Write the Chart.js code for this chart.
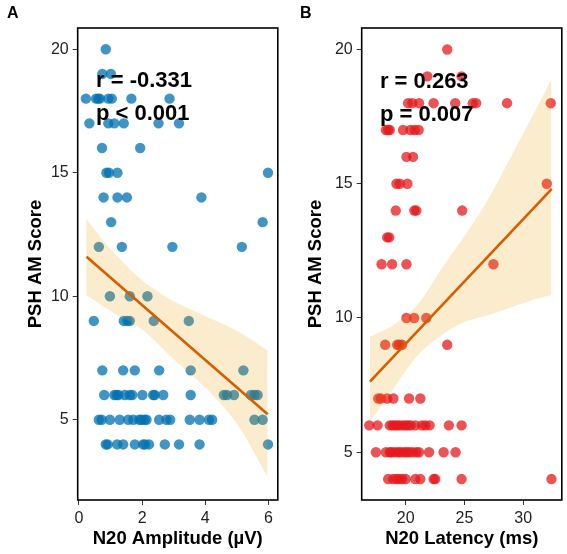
<!DOCTYPE html>
<html>
<head>
<meta charset="utf-8">
<script src="https://cdn.jsdelivr.net/npm/chart.js@4.4.1/dist/chart.umd.min.js"></script>
<style>
  html, body { margin: 0; padding: 0; background: #fff; }
  #wrap { position: relative; width: 567px; height: 554px; }
  canvas { position: absolute; top: 0; }
  #chartA { left: 0; }
  #chartB { left: 283px; }
</style>
</head>
<body>
<div id="wrap">
  <canvas id="chartA" width="283" height="554"></canvas>
  <canvas id="chartB" width="284" height="554"></canvas>
</div>
<script>
// PSH AM score rows (same levels in both panels)
const scoreLevels = [20, 19, 18, 17, 16, 15, 14, 13, 12, 10, 9, 7, 6, 5, 4];

// Panel A: N20 amplitude (µV) of the patients in each score row
const amplitudeByScore = [
    [0.85],
    [0.74, 1.01],
    [0.22, 0.54, 0.61, 0.66, 0.93, 1.04, 1.66, 2.87],
    [0.33, 0.93, 1.12, 1.42, 2.52, 3.17],
    [0.73, 1.94],
    [0.87, 0.95, 1.22, 5.99],
    [0.78, 1.22, 1.52, 3.88],
    [1.02, 5.82],
    [0.63, 1.36, 2.96, 5.16],
    [0.98, 1.61, 2.17],
    [0.47, 1.42, 1.53, 1.61, 2.37, 3.48],
    [0.74, 1.40, 1.77, 2.54, 3.54, 5.21],
    [0.80, 1.12, 1.19, 1.25, 1.45, 1.61, 1.69, 2.01, 2.35, 2.40, 2.67, 3.54, 4.59, 4.69, 4.91, 5.45, 5.56, 5.66],
    [0.63, 0.72, 0.98, 1.29, 1.56, 1.72, 1.91, 1.98, 2.08, 2.14, 2.54, 2.77, 2.89, 3.51, 3.82, 4.12, 4.22, 5.56, 5.82],
    [0.85, 0.91, 1.21, 1.40, 1.77, 2.03, 2.10, 2.22, 2.72, 3.17, 3.82, 5.99]
];

// Panel B: N20 latency (ms) of the patients in each score row
const latencyByScore = [
    [23.53],
    [21.84, 24.75],
    [20.2, 20.56, 21.13, 22.37, 24.21, 25.71, 25.99, 28.62, 32.34],
    [18.31, 18.5, 18.64, 19.77, 20.4, 20.76, 21.1],
    [20.06, 20.62],
    [19.21, 19.49, 20.14, 32.0],
    [19.15, 20.73, 20.9, 24.8],
    [18.42, 18.59],
    [17.94, 18.84, 20.06, 27.46],
    [20.06, 20.71, 21.75],
    [18.25, 19.27, 19.44, 19.69, 23.53],
    [17.66, 17.88, 18.42, 18.95, 20.28, 21.24],
    [16.89, 17.6, 18.64, 18.87, 19.07, 19.27, 19.49, 19.77, 20.0, 20.2, 20.42, 20.82, 21.38, 21.67, 22.03, 23.67, 24.75],
    [17.46, 18.31, 18.64, 18.79, 19.07, 19.35, 19.55, 19.83, 20.06, 20.28, 20.56, 20.9, 21.13, 21.98, 23.22, 24.24],
    [18.5, 18.93, 19.21, 19.44, 19.69, 20.0, 20.82, 21.24, 22.37, 22.51, 24.75, 32.4]
];

// fitted lines and confidence bands
const ampFitX = [0.24, 5.98];
const ampFitY = [11.6, 5.22];
const ampBandX = [0.23, 1.0, 2.0, 3.0, 4.0, 5.0, 5.98];
const ampBandUpper = [13.15, 11.9, 10.65, 9.8, 9.2, 8.6, 7.8];
const ampBandLower = [10.05, 9.4, 8.65, 7.45, 6.3, 4.85, 2.68];

const latFitX = [16.95, 32.43];
const latFitY = [7.63, 14.81];
const latBandX = [16.95, 19, 21, 23, 25, 27, 29, 31, 32.4];
const latBandUpper = [9.3, 9.75, 10.5, 11.8, 13.05, 14.4, 16.05, 17.7, 18.9];
const latBandLower = [6.13, 7.4, 8.6, 9.35, 9.85, 10.1, 10.4, 10.7, 10.86];

// tick labels
const yTicks = [5, 10, 15, 20];
const ampTicks = [0, 2, 4, 6];
const latTicks = [20, 25, 30];

const FONT = '"Liberation Sans", Arial, Helvetica, sans-serif';

function toPoints(xs, ys) {
    return xs.map((v, i) => ({ x: v, y: ys[i] }));
}

function rowsToPoints(rows) {
    let pts = [];
    rows.forEach((row, i) => {
        row.forEach(v => pts.push({ x: v, y: scoreLevels[i] }));
    });
    return pts;
}

// box, stats text and panel letter
const panelDecor = {
    id: 'panelDecor',
    afterDatasetsDraw(chart, args, o) {
        const { ctx, chartArea: a, scales: { x, y } } = chart;
        ctx.save();
        ctx.fillStyle = '#000';
        ctx.textAlign = 'left';
        ctx.textBaseline = 'alphabetic';
        ctx.font = 'bold 22px ' + FONT;
        let tx = x.getPixelForValue(o.statX);
        ctx.fillText(o.stats[0], tx, y.getPixelForValue(o.statY[0]));
        ctx.fillText(o.stats[1], tx, y.getPixelForValue(o.statY[1]));

        ctx.strokeStyle = '#000';
        ctx.lineWidth = 1.6;
        ctx.strokeRect(a.left, a.top, a.right - a.left, a.bottom - a.top);

        ctx.font = 'bold 16px ' + FONT;
        ctx.fillText(o.letter, o.letterX, 18);
        ctx.restore();
    }
};

function makePanel(id, cfg) {
    let ctx = document.getElementById(id).getContext('2d');
    return new Chart(ctx, {
        type: 'scatter',
        data: {
            datasets: [
                {
                    data: rowsToPoints(cfg.rows),
                    backgroundColor: cfg.pointColor,
                    borderWidth: 0,
                    pointRadius: 5.2,
                    order: 3
                },
                {
                    type: 'line',
                    data: toPoints(cfg.bandX, cfg.bandUpper),
                    borderWidth: 0,
                    pointRadius: 0,
                    fill: '+1',
                    backgroundColor: 'rgba(230,159,0,0.2)',
                    tension: 0.3,
                    order: 2
                },
                {
                    type: 'line',
                    data: toPoints(cfg.bandX, cfg.bandLower),
                    borderWidth: 0,
                    pointRadius: 0,
                    fill: false,
                    tension: 0.3,
                    order: 2
                },
                {
                    type: 'line',
                    data: toPoints(cfg.fitX, cfg.fitY),
                    borderColor: '#D55E00',
                    borderWidth: 2.6,
                    pointRadius: 0,
                    fill: false,
                    order: 1
                }
            ]
        },
        options: {
            responsive: false,
            devicePixelRatio: 1,
            animation: false,
            events: [],
            layout: { padding: { top: 28, right: cfg.padRight, bottom: 0, left: 0 } },
            plugins: {
                legend: { display: false },
                tooltip: { enabled: false },
                panelDecor: cfg.decor
            },
            scales: {
                x: {
                    type: 'linear',
                    min: cfg.xMin,
                    max: cfg.xMax,
                    afterBuildTicks: s => { s.ticks = cfg.xTicks.map(v => ({ value: v })); },
                    afterFit: s => { s.height = 54; },
                    grid: { drawOnChartArea: false, drawTicks: true, tickLength: 5, tickColor: '#333', tickWidth: 1 },
                    border: { display: false },
                    ticks: { color: '#222', font: { family: FONT, size: 16 }, padding: 4, maxRotation: 0 },
                    title: {
                        display: true,
                        text: cfg.xTitle,
                        color: '#000',
                        font: { family: FONT, size: 18.5, weight: 'bold' },
                        padding: { top: 0, bottom: 4 }
                    }
                },
                y: {
                    type: 'linear',
                    min: cfg.yMin,
                    max: cfg.yMax,
                    afterBuildTicks: s => { s.ticks = yTicks.map(v => ({ value: v })); },
                    afterFit: s => { s.width = cfg.axisLeft; },
                    grid: { drawOnChartArea: false, drawTicks: true, tickLength: 5, tickColor: '#333', tickWidth: 1 },
                    border: { display: false },
                    ticks: { color: '#222', font: { family: FONT, size: 16 }, padding: 4 },
                    title: {
                        display: true,
                        text: 'PSH AM Score',
                        color: '#000',
                        font: { family: FONT, size: 18.5, weight: 'bold' },
                        padding: { top: cfg.yTitlePad, bottom: 0 }
                    }
                }
            }
        },
        plugins: [panelDecor]
    });
}

makePanel('chartA', {
    rows: amplitudeByScore,
    pointColor: 'rgba(0,114,178,0.75)',
    bandX: ampBandX, bandUpper: ampBandUpper, bandLower: ampBandLower,
    fitX: ampFitX, fitY: ampFitY,
    xMin: -0.04, xMax: 6.30, xTicks: ampTicks,
    yMin: 1.75, yMax: 20.86,
    xTitle: 'N20 Amplitude (µV)',
    axisLeft: 77.7, padRight: 5, yTitlePad: 25,
    decor: { stats: ['r = -0.331', 'p < 0.001'], statX: 0.54, statY: [18.47, 17.13], letter: 'A', letterX: 7 }
});

makePanel('chartB', {
    rows: latencyByScore,
    pointColor: 'rgba(228,26,28,0.75)',
    bandX: latBandX, bandUpper: latBandUpper, bandLower: latBandLower,
    fitX: latFitX, fitY: latFitY,
    xMin: 16.25, xMax: 33.28, xTicks: latTicks,
    yMin: 3.22, yMax: 20.8,
    xTitle: 'N20 Latency (ms)',
    axisLeft: 78.7, padRight: 4.3, yTitlePad: 22,
    decor: { stats: ['r = 0.263', 'p = 0.007'], statX: 17.8, statY: [18.55, 17.35], letter: 'B', letterX: 17 }
});
</script>
</body>
</html>
